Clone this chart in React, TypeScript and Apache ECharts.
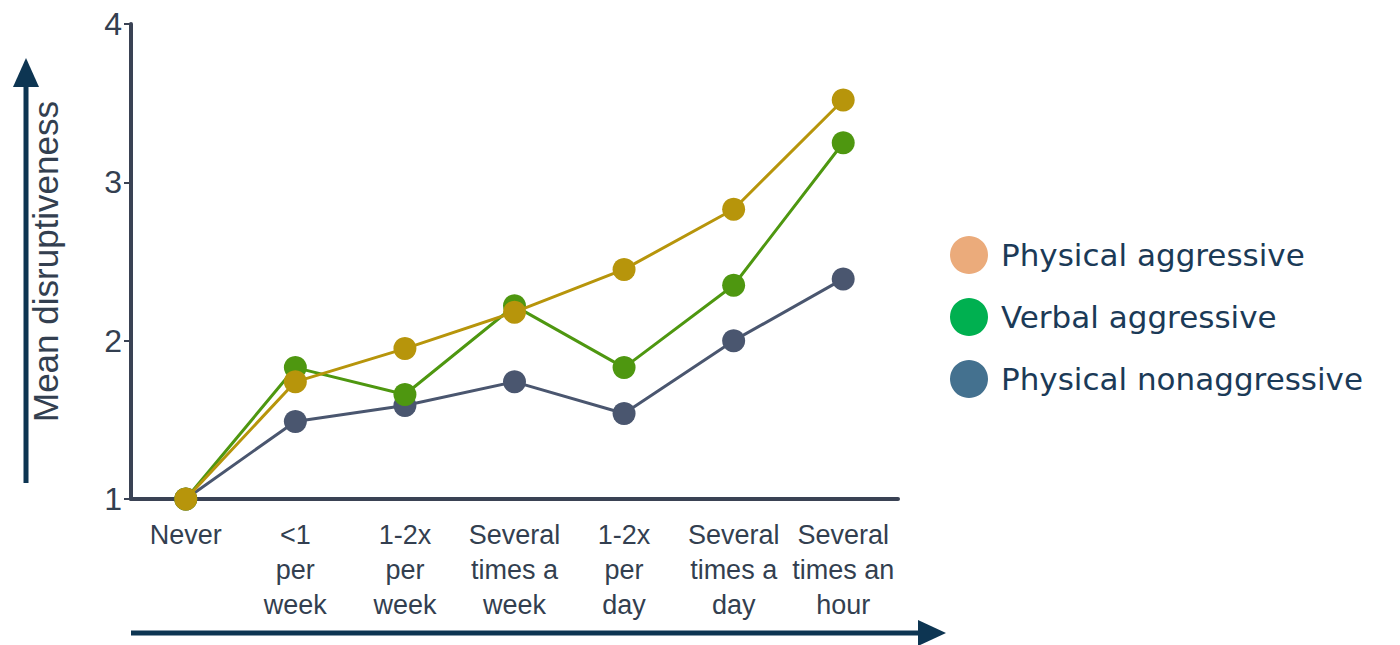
import React, { useEffect, useRef } from "react";
import * as echarts from "echarts";

const categories = [
  "Never",
  "<1\nper\nweek",
  "1-2x\nper\nweek",
  "Several\ntimes a\nweek",
  "1-2x\nper\nday",
  "Several\ntimes a\nday",
  "Several\ntimes an\nhour",
];

const physicalAggressive = [1.0, 1.74, 1.95, 2.18, 2.45, 2.83, 3.52];
const verbalAggressive = [1.0, 1.83, 1.66, 2.22, 1.83, 2.35, 3.25];
const physicalNonaggressive = [1.0, 1.49, 1.59, 1.74, 1.54, 2.0, 2.39];

const seriesNames = ["Physical aggressive", "Verbal aggressive", "Physical nonaggressive"];
const lineColors = ["#B7950B", "#4E9710", "#4A566F"];
const legendColors = ["#EBAB7B", "#00B050", "#44718F"];

const yTicks = [1, 2, 3, 4];

export default function App() {
  const ref = useRef<HTMLDivElement>(null);

  useEffect(() => {
    if (!ref.current) return;
    document.body.style.margin = "0";
    const chart = echarts.init(ref.current, undefined, { renderer: "svg" });
    const axisColor = "#3A4254";
    const navy = "#0D3552";
    const mkSeries = (i: number, data: number[], z: number) => ({
      name: seriesNames[i],
      type: "line",
      data,
      z,
      symbol: "circle",
      symbolSize: 23,
      lineStyle: { color: lineColors[i], width: 3 },
      itemStyle: { color: lineColors[i] },
    });
    chart.setOption({
      animation: false,
      grid: { left: 131, top: 24, width: 767, bottom: 146 },
      legend: {
        orient: "vertical",
        left: 945,
        top: 231,
        icon: "circle",
        itemWidth: 38,
        itemHeight: 38,
        itemGap: 24,
        data: seriesNames.map((n, i) => ({ name: n, itemStyle: { color: legendColors[i] } })),
        textStyle: {
          fontFamily: "DejaVu Sans",
          fontSize: 31,
          color: "#1B3A57",
          padding: [0, 0, 0, 8],
        },
      },
      xAxis: {
        type: "category",
        data: categories,
        boundaryGap: true,
        axisLine: { show: true, lineStyle: { color: axisColor, width: 4 } },
        axisTick: { show: false },
        axisLabel: {
          interval: 0,
          margin: 18,
          fontFamily: "Liberation Sans",
          fontSize: 27,
          lineHeight: 35,
          color: "#333F50",
        },
        splitLine: { show: false },
      },
      yAxis: {
        type: "value",
        min: 1,
        max: 4,
        interval: 1,
        name: "Mean disruptiveness",
        nameLocation: "middle",
        nameRotate: 90,
        nameGap: 68,
        nameTextStyle: { fontFamily: "Liberation Sans", fontSize: 35, color: "#333F50" },
        axisLine: { show: true, lineStyle: { color: axisColor, width: 4 } },
        axisTick: { show: true, length: 7, lineStyle: { color: axisColor, width: 2 } },
        axisLabel: {
          margin: 9,
          fontFamily: "Liberation Sans",
          fontSize: 32,
          color: "#333F50",
          formatter: (v: number) => (yTicks.includes(v) ? String(v) : ""),
        },
        splitLine: { show: false },
      },
      series: [
        mkSeries(2, physicalNonaggressive, 2),
        mkSeries(1, verbalAggressive, 3),
        mkSeries(0, physicalAggressive, 4),
      ],
      graphic: [
        { type: "line", shape: { x1: 26, y1: 483, x2: 26, y2: 80 }, style: { stroke: navy, lineWidth: 5 } },
        { type: "polygon", shape: { points: [[26, 58], [13, 87], [39, 87]] }, style: { fill: navy } },
        { type: "line", shape: { x1: 131, y1: 633, x2: 925, y2: 633 }, style: { stroke: navy, lineWidth: 5 } },
        { type: "polygon", shape: { points: [[946, 633], [918, 620], [918, 646]] }, style: { fill: navy } },
      ],
    });
    return () => chart.dispose();
  }, []);

  return <div ref={ref} style={{ width: 1400, height: 645 }} />;
}
